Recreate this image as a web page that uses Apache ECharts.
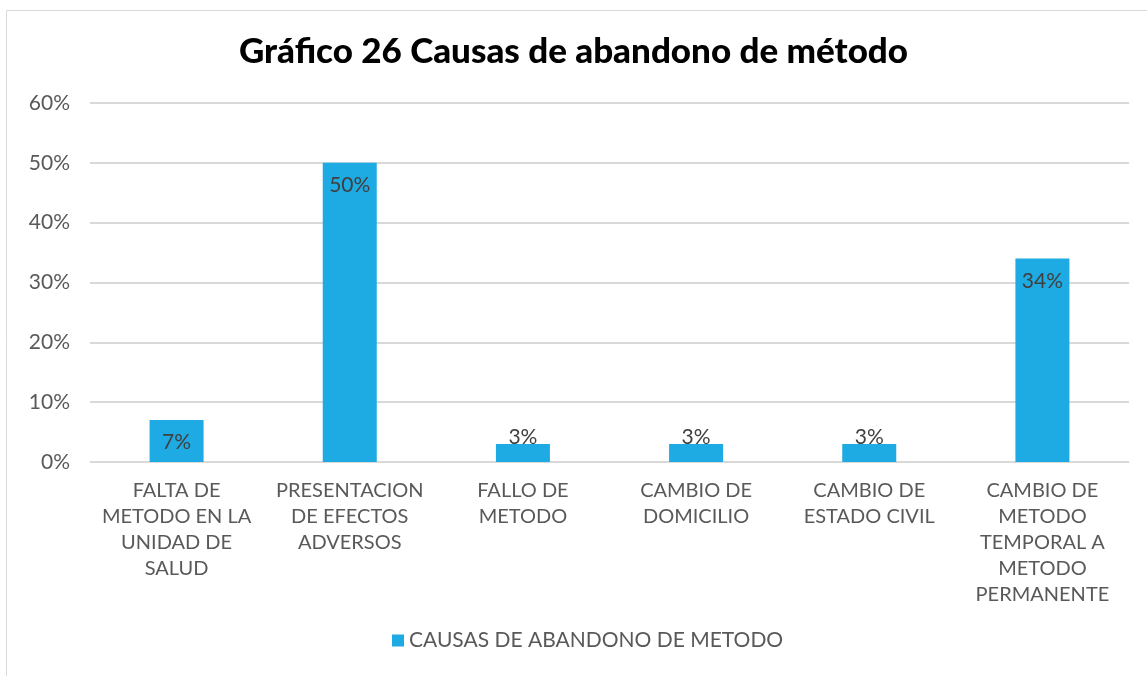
<!DOCTYPE html>
<html>
<head>
<meta charset="utf-8">
<script src="https://cdn.jsdelivr.net/npm/echarts@6/dist/echarts.min.js"></script>
<style>
  html, body { margin: 0; padding: 0; background: #fff; }
  #chart { width: 1147px; height: 676px; }
</style>
</head>
<body>
<div id="chart"></div>
<script>
// Causas de abandono de método (porcentaje)
const categories = [
  'FALTA DE\nMETODO EN LA\nUNIDAD DE\nSALUD',
  'PRESENTACION\nDE EFECTOS\nADVERSOS',
  'FALLO DE\nMETODO',
  'CAMBIO DE\nDOMICILIO',
  'CAMBIO DE\nESTADO CIVIL',
  'CAMBIO DE\nMETODO\nTEMPORAL A\nMETODO\nPERMANENTE'
];
const values = [7, 50, 3, 3, 3, 34];
const yTicks = [0, 10, 20, 30, 40, 50, 60];
const seriesName = 'CAUSAS DE ABANDONO DE METODO';
const titleText = 'Gráfico 26 Causas de abandono de método';

const FONT = 'Lato, "Open Sans", sans-serif';
const BAR = '#1EAAE2';

const chart = echarts.init(document.getElementById('chart'), null, { renderer: 'canvas' });

// Short bars get their label just above the bar top; others sit inside.
const barData = values.map(v => ({
  value: v,
  label: v < 5
    ? { position: 'top', distance: -4 }
    : { position: 'insideTop', distance: 12 }
}));

chart.setOption({
  backgroundColor: '#fff',
  animation: false,
  graphic: [{
    type: 'rect',
    shape: { x: 6.5, y: 10.5, width: 1200, height: 700 },
    style: { fill: 'none', stroke: '#D9D9D9', lineWidth: 1 },
    silent: true
  }],
  title: {
    text: titleText,
    left: 'center',
    top: 29,
    textStyle: { fontFamily: FONT, fontWeight: 900, fontSize: 35, color: '#000' }
  },
  legend: {
    data: [seriesName],
    bottom: 20,
    left: 387,
    icon: 'rect',
    itemWidth: 12,
    itemHeight: 12,
    itemGap: 6,
    textStyle: { fontFamily: FONT, fontSize: 21, color: '#595959' }
  },
  grid: { left: 90, right: 18, top: 103, bottom: 214, containLabel: false },
  xAxis: {
    type: 'category',
    data: categories,
    axisLine: { show: true, lineStyle: { color: '#D9D9D9', width: 1 } },
    axisTick: { show: false },
    axisLabel: {
      interval: 0,
      margin: 16,
      fontFamily: FONT,
      fontSize: 20,
      lineHeight: 26,
      color: '#595959',
      align: 'center'
    }
  },
  yAxis: {
    type: 'value',
    min: yTicks[0],
    max: yTicks[yTicks.length - 1],
    interval: 10,
    axisLine: { show: false },
    axisTick: { show: false },
    splitLine: { lineStyle: { color: '#D9D9D9', width: 2 } },
    axisLabel: {
      margin: 20,
      fontFamily: FONT,
      fontSize: 21,
      color: '#595959',
      formatter: v => v + '%'
    }
  },
  series: [{
    name: seriesName,
    type: 'bar',
    data: barData,
    barWidth: 54,
    itemStyle: { color: BAR },
    label: {
      show: true,
      fontFamily: FONT,
      fontSize: 21,
      color: '#404040',
      formatter: p => p.value + '%'
    }
  }]
});
</script>
</body>
</html>
